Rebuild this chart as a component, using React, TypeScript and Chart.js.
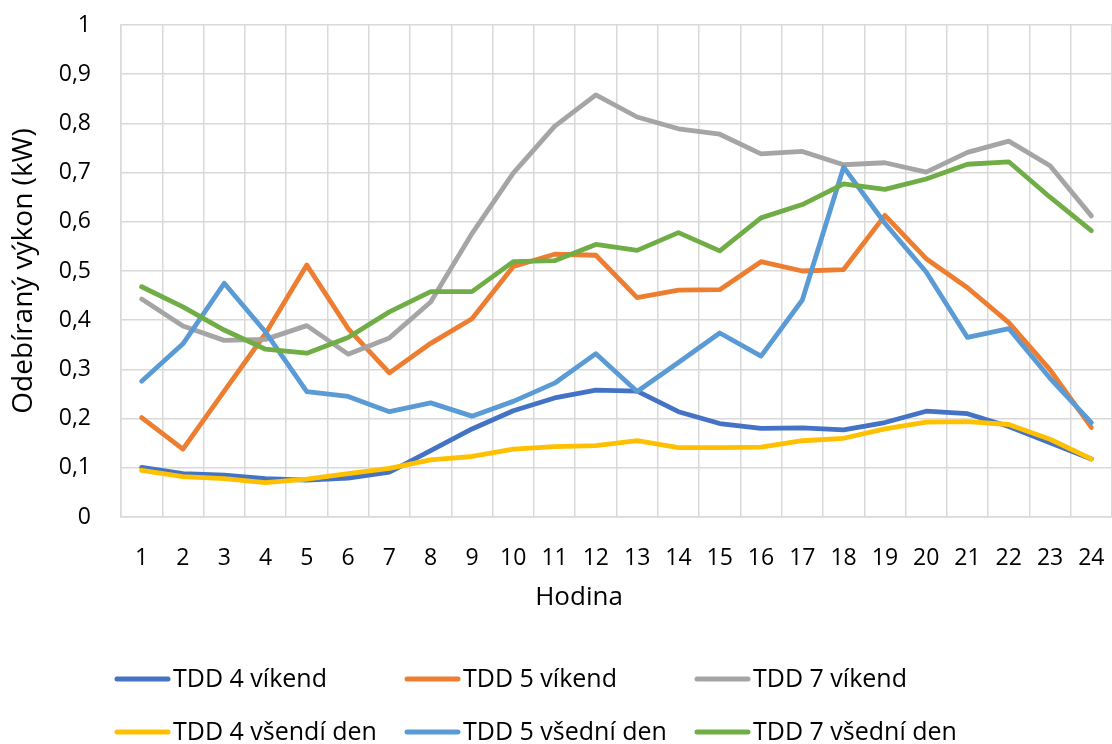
import React, { useEffect, useRef } from "react";
import { Chart, registerables } from "chart.js";

Chart.register(...registerables);

const hours = ["1","2","3","4","5","6","7","8","9","10","11","12","13","14","15","16","17","18","19","20","21","22","23","24"];

const tdd4Weekend = [0.101, 0.088, 0.085, 0.078, 0.075, 0.079, 0.091, 0.135, 0.179, 0.216, 0.242, 0.258, 0.256, 0.214, 0.190, 0.180, 0.181, 0.177, 0.192, 0.215, 0.210, 0.184, 0.151, 0.118];
const tdd5Weekend = [0.202, 0.138, 0.256, 0.373, 0.512, 0.383, 0.293, 0.353, 0.403, 0.509, 0.534, 0.532, 0.446, 0.461, 0.462, 0.519, 0.500, 0.503, 0.613, 0.525, 0.466, 0.395, 0.299, 0.182];
const tdd7Weekend = [0.443, 0.388, 0.359, 0.361, 0.389, 0.331, 0.364, 0.437, 0.576, 0.699, 0.794, 0.858, 0.813, 0.789, 0.778, 0.738, 0.743, 0.716, 0.720, 0.701, 0.741, 0.764, 0.714, 0.612];
const tdd4Weekday = [0.095, 0.082, 0.078, 0.070, 0.077, 0.088, 0.099, 0.116, 0.123, 0.138, 0.143, 0.145, 0.155, 0.141, 0.141, 0.142, 0.155, 0.160, 0.179, 0.193, 0.194, 0.188, 0.158, 0.118];
const tdd5Weekday = [0.276, 0.352, 0.475, 0.376, 0.255, 0.245, 0.214, 0.232, 0.205, 0.235, 0.272, 0.332, 0.255, 0.314, 0.374, 0.327, 0.441, 0.711, 0.597, 0.498, 0.365, 0.383, 0.282, 0.192];
const tdd7Weekday = [0.468, 0.427, 0.380, 0.341, 0.333, 0.365, 0.417, 0.458, 0.458, 0.519, 0.521, 0.554, 0.542, 0.578, 0.541, 0.608, 0.635, 0.677, 0.666, 0.687, 0.717, 0.722, 0.650, 0.582];

const seriesNames = ["TDD 4 víkend", "TDD 5 víkend", "TDD 7 víkend", "TDD 4 všendí den", "TDD 5 všední den", "TDD 7 všední den"];
const seriesColors = ["#4472C4", "#ED7D31", "#A5A5A5", "#FFC000", "#5B9BD5", "#70AD47"];
const seriesValues = [tdd4Weekend, tdd5Weekend, tdd7Weekend, tdd4Weekday, tdd5Weekday, tdd7Weekday];

const xTitle = "Hodina";
const yTitle = "Odebíraný výkon (kW)";

const FONT = "'Open Sans', sans-serif";

const legendPlugin = {
  id: "gridLegend",
  afterDraw(chart: any) {
    const ctx = chart.ctx;
    ctx.save();
    // x-axis title
    ctx.font = `26px ${FONT}`;
    ctx.fillStyle = "#000";
    ctx.textAlign = "center";
    ctx.textBaseline = "middle";
    ctx.fillText(xTitle, 579, 598);
    // legend
    ctx.font = `25px ${FONT}`;
    ctx.textAlign = "left";
    chart.data.datasets.forEach((ds: any, i: number) => {
      const col = i % 3;
      const row = Math.floor(i / 3);
      const x0 = 115 + col * 290;
      const y = 679 + row * 53;
      ctx.strokeStyle = ds.borderColor;
      ctx.lineWidth = 5;
      ctx.lineCap = "round";
      ctx.beginPath();
      ctx.moveTo(x0 + 2, y);
      ctx.lineTo(x0 + 53, y);
      ctx.stroke();
      ctx.fillStyle = "#000";
      ctx.fillText(ds.label, x0 + 58, y + 1);
    });
    ctx.restore();
  },
};

export default function App() {
  const ref = useRef<HTMLCanvasElement | null>(null);
  useEffect(() => {
    if (!ref.current) return;
    const chart = new Chart(ref.current, {
      type: "line",
      data: {
        labels: hours,
        datasets: seriesValues.map((vals, i) => ({
          label: seriesNames[i],
          data: vals,
          borderColor: seriesColors[i],
          backgroundColor: seriesColors[i],
          borderWidth: 4.8,
          pointRadius: 0,
          pointHoverRadius: 0,
          tension: 0,
          fill: false,
          borderCapStyle: "round",
          borderJoinStyle: "round",
          order: seriesValues.length - i,
        })),
      },
      options: {
        responsive: false,
        animation: false,
        layout: { padding: { left: 0, right: 0, top: 25, bottom: 119 } },
        plugins: {
          legend: { display: false },
          tooltip: { enabled: false },
        },
        scales: {
          x: {
            type: "category",
            offset: true,
            grid: { offset: true, color: "#D9D9D9", lineWidth: 1.5, drawTicks: true, tickLength: 25, tickColor: "rgba(0,0,0,0)" },
            border: { color: "#D9D9D9", width: 1.5 },
            ticks: { color: "#000", font: { family: FONT, size: 23 }, padding: 3, maxRotation: 0, autoSkip: false },
            title: { display: false, text: xTitle },
            afterFit(scale: any) { scale.height = 108; },
          },
          y: {
            min: 0,
            max: 1,
            grid: { color: "#D9D9D9", lineWidth: 1.5, drawTicks: true, tickLength: 27, tickColor: "rgba(0,0,0,0)" },
            border: { color: "#D9D9D9", width: 1.5 },
            ticks: {
              stepSize: 0.1,
              color: "#000",
              font: { family: FONT, size: 23 },
              padding: 3,
              callback: (v: any) => String(Number(Number(v).toFixed(1))).replace(".", ","),
            },
            title: { display: true, text: yTitle, color: "#000", font: { family: FONT, size: 28 }, padding: { top: 7, bottom: 0 } },
            afterFit(scale: any) { scale.width = 121; },
          },
        },
      },
      plugins: [legendPlugin],
    });
    return () => chart.destroy();
  }, []);
  return (
    <div style={{ position: "fixed", left: 0, top: 0, width: 1112, height: 744, background: "#fff" }}>
      <canvas ref={ref} width={1112} height={744} style={{ display: "block" }} />
    </div>
  );
}
